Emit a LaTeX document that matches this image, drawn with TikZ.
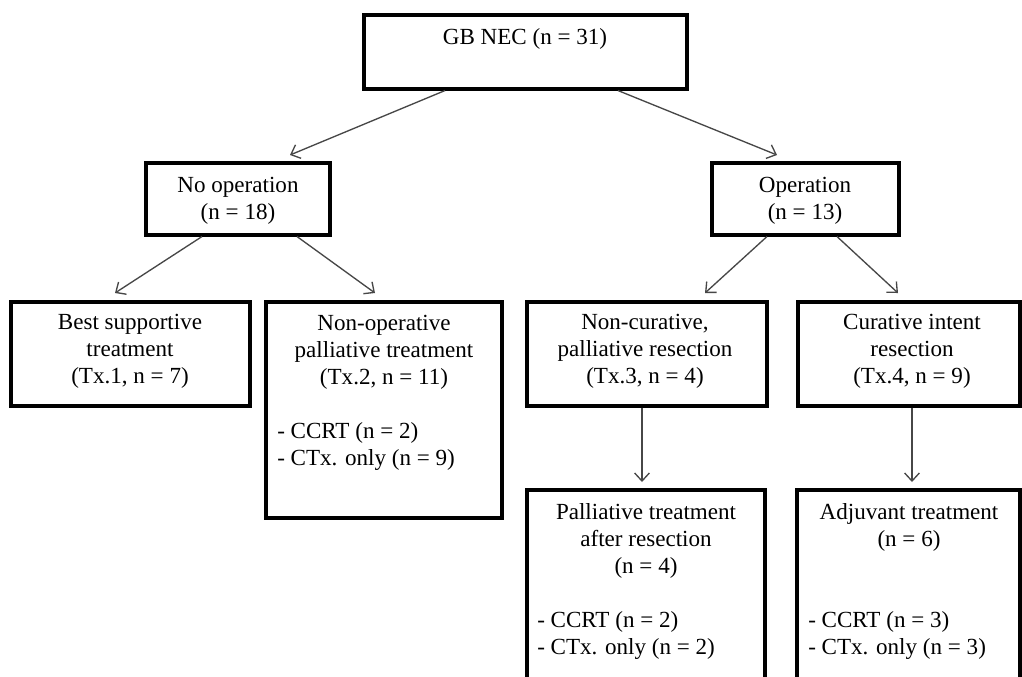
\documentclass[tikz,border=0pt]{standalone}
\usepackage{fontspec}
\setmainfont{Liberation Serif}
\usetikzlibrary{arrows.meta,calc,fit}
\begin{document}
\begin{tikzpicture}[x=0.75pt,y=-0.75pt,
  box/.style={draw=black, line width=2.3pt, inner sep=0pt},
  txt/.style={font=\fontsize{17.3}{20.25}\selectfont, inner sep=0pt, align=center, anchor=north},
  lst/.style={font=\fontsize{17.3}{20.25}\selectfont, inner sep=0pt, align=left, anchor=north west},
  arr/.style={draw=black!72, line width=1pt, -{Straight Barb[length=6pt,width=11pt]}}]
\useasboundingbox (0,0) rectangle (1022,676);
\clip (0,0) rectangle (1022,676);
\fill[white] (0,0) rectangle (1022,676);

% boxes
\node[box, fit={(364,15) (687,89)}] (top) {};
\node[box, fit={(146,163) (330,235)}] (noop) {};
\node[box, fit={(712,163) (899,235)}] (op) {};
\node[box, fit={(11,302) (250,406)}] (bst) {};
\node[box, fit={(266,302) (502,518)}] (nop) {};
\node[box, fit={(527,302) (767,406)}] (ncr) {};
\node[box, fit={(798,302) (1020,406)}] (cur) {};
\node[box, fit={(527,490) (765,720)}] (pal) {};
\node[box, fit={(797,490) (1020,720)}] (adj) {};

% texts
\node[txt] (ttop) at (525,25) {\strut GB NEC (n = 31)};
\node[txt] (tnoop) at (238,173) {\strut No operation\\(n = 18)};
\node[txt] (top2) at (805,173) {\strut Operation\\(n = 13)};
\node[txt] (tbst) at (130,310) {\strut Best supportive\\treatment\\(Tx.1, n = 7)};
\node[txt] (tnop) at (384,311) {\strut Non-operative\\palliative treatment\\(Tx.2, n = 11)};
\node[lst] (lnop) at (277,419) {\strut - CCRT (n = 2)\\- CTx. only (n = 9)};
\node[txt] (tncr) at (645,310) {\strut Non-curative,\\palliative resection\\(Tx.3, n = 4)};
\node[txt] (tcur) at (912,310) {\strut Curative intent\\resection\\(Tx.4, n = 9)};
\node[txt] (tpal) at (646,500) {\strut Palliative treatment\\after resection\\(n = 4)};
\node[lst] (lpal) at (537,608) {\strut - CCRT (n = 2)\\- CTx. only (n = 2)};
\node[txt] (tadj) at (909,500) {\strut Adjuvant treatment\\(n = 6)};
\node[lst] (ladj) at (808,608) {\strut - CCRT (n = 3)\\- CTx. only (n = 3)};

% arrow end points
\coordinate (e1) at (290,155);
\coordinate (e2) at (777,155);
\coordinate (e3) at (115,293);
\coordinate (e4) at (375,293);
\coordinate (e5) at (705,293);
\coordinate (e6) at (898,293);
\coordinate (e7) at (642,482);
\coordinate (e8) at (912,482);

\draw[arr] (top.south west -| 445,0) -- (e1);
\draw[arr] (top.south west -| 618,0) -- (e2);
\draw[arr] (noop.south west -| 202,0) -- (e3);
\draw[arr] (noop.south west -| 297,0) -- (e4);
\draw[arr] (op.south west -| 767,0) -- (e5);
\draw[arr] (op.south west -| 837,0) -- (e6);
\draw[arr] (ncr.south west -| 642,0) -- (e7);
\draw[arr] (cur.south west -| 912,0) -- (e8);
\end{tikzpicture}
\end{document}
